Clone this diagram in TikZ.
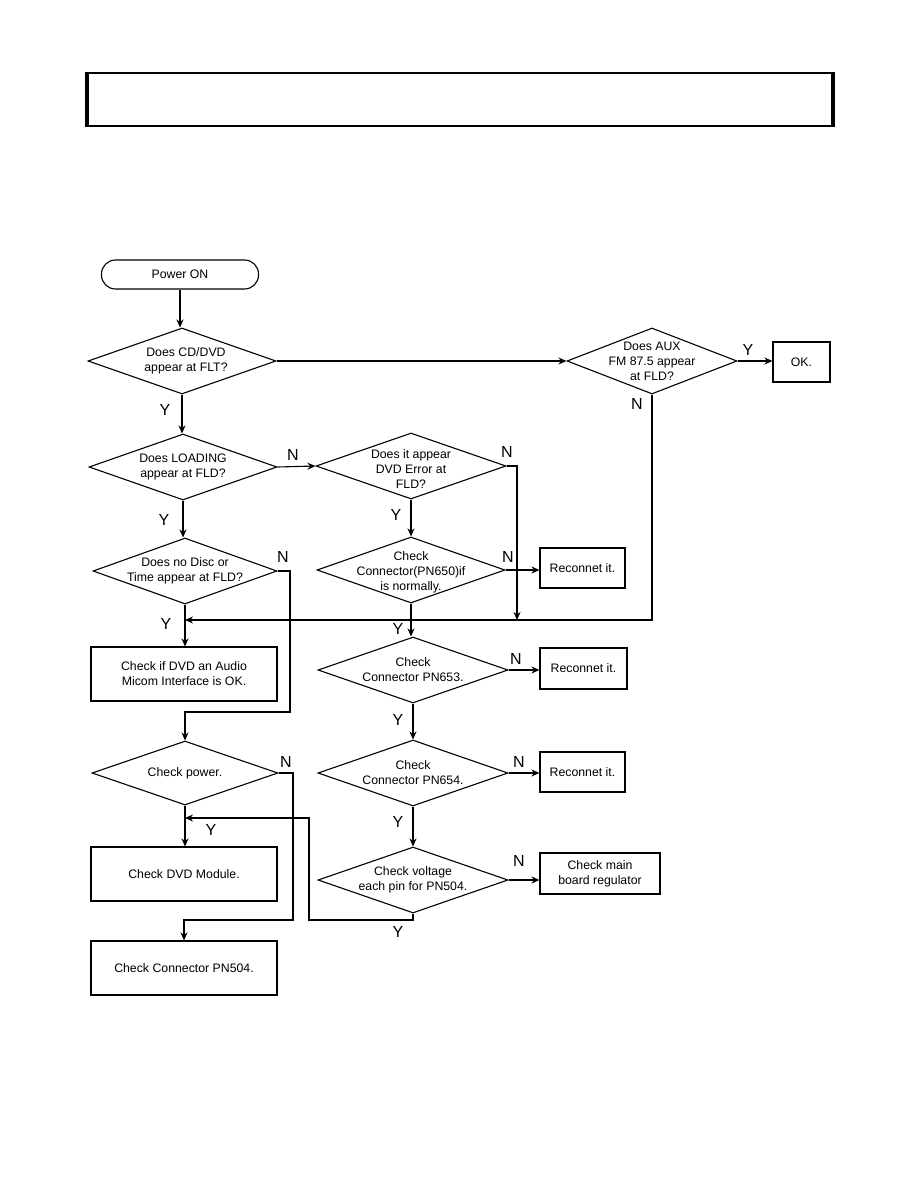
\documentclass[tikz,border=0pt]{standalone}
\usepackage{fontspec}
\setmainfont{Liberation Sans}
\usepackage{tikz}
\usetikzlibrary{arrows.meta,positioning,shapes.geometric}

\begin{document}
\begin{tikzpicture}[
  x=1pt, y=-1pt,
  every node/.style={font=\fontsize{12.3}{15}\selectfont},
  term/.style={rectangle, rounded corners=14pt, draw, line width=1.1pt, minimum width=157pt, minimum height=29pt},
  box/.style={rectangle, draw, line width=1.1pt, minimum width=186pt, minimum height=54pt, align=center},
  smallbox/.style={rectangle, draw, line width=1.1pt, minimum width=85pt, minimum height=40pt, align=center},
  decision/.style={diamond, draw, line width=1.1pt, minimum width=188pt, minimum height=66pt, inner sep=0pt},
  txt/.style={align=center, font=\fontsize{12.3}{15}\selectfont},
  yn/.style={font=\fontsize{16}{16}\selectfont, inner sep=0pt},
  arr/.style={-{Stealth[length=8pt,width=7pt]}, line width=1.1pt}
]
\useasboundingbox (0,0) rectangle (918,1188);

% header bar
\node[draw, line width=1.5pt, minimum width=744pt, minimum height=53pt, inner sep=0pt] (hdr) at (460,99.5) {};
\draw[line width=4pt] (hdr.north west) -- (hdr.south west);
\draw[line width=4pt] (hdr.north east) -- (hdr.south east);

% left column
\node[term] (pwr) at (180,274.5) {Power ON};
\node[decision, label={[txt, xshift=4pt]center:{Does CD/DVD\\appear at FLT?}}] (d1) at (182,361) {};
\node[decision, label={[txt]center:{Does LOADING\\appear at FLD?}}] (d2) at (183,467) {};
\node[decision, minimum width=184pt, label={[txt]center:{Does no Disc or\\Time appear at FLD?}}] (dnd) at (185,571) {};
\node[box] (bif) at (184,674) {Check if DVD an Audio\\Micom Interface is OK.};
\node[decision, minimum width=186pt, minimum height=64pt, label={[txt]center:{Check power.}}] (dpw) at (185,773) {};
\node[box] (bdvd) at (184,874) {Check DVD Module.};
\node[box] (b504) at (184,968) {Check Connector PN504.};

% middle column
\node[decision, minimum width=190pt, label={[txt, yshift=-3pt]center:{Does it appear\\DVD Error at\\FLD?}}] (d3) at (411,466) {};
\node[decision, label={[txt, yshift=-2pt]center:{Check\\Connector(PN650)if\\is normally.}}] (d4) at (411,570) {};
\node[decision, minimum width=190pt, label={[txt]center:{Check\\Connector PN653.}}] (d5) at (413,670) {};
\node[decision, minimum width=190pt, label={[txt]center:{Check\\Connector PN654.}}] (d6) at (413,773) {};
\node[decision, minimum width=190pt, label={[txt]center:{Check voltage\\each pin for PN504.}}] (d7) at (413,880) {};

% right column
\node[decision, minimum width=170pt, label={[txt]center:{Does AUX\\FM 87.5 appear\\at FLD?}}] (aux) at (652,361) {};
\node[smallbox, minimum width=57pt] (ok) at (801.5,362) {OK.};
\node[smallbox] (rc1) at (582.5,568) {Reconnet it.};
\node[smallbox, minimum width=87pt, minimum height=41pt] (rc2) at (583.5,668.5) {Reconnet it.};
\node[smallbox] (rc3) at (582.5,772) {Reconnet it.};
\node[smallbox, minimum width=120pt, minimum height=41pt] (reg) at (600,873.5) {Check main\\board regulator};

% junctions
\coordinate (jn1) at (185,620);
\coordinate (m3) at (517,620);
\coordinate (c2) at (290,712);
\coordinate (c4) at (293,920);
\coordinate (c7) at (309,920);
\coordinate (jn3) at (185,818);

% connectors
\draw[arr] (pwr.south) -- (pwr.south |- d1.north);
\draw[arr] (d1.east) -- (aux.west);
\draw[arr] (aux.east) -- (aux.east -| ok.west);
\draw[arr] (d1.south) -- (d1.south |- d2.north);
\draw[arr] (d2.east) -- (d3.west);
\draw[arr] (d2.south) -- (d2.south |- dnd.north);
\draw[arr] (d3.south) -- (d3.south |- d4.north);
\draw[arr] (d3.east) -| (m3);
\draw[arr] (d4.east) -- (d4.east -| rc1.west);
\draw[arr] (aux.south) |- (jn1);
\draw[arr] (d4.south) -- (d4.south |- d5.north);
\draw[arr] (d5.east) -- (d5.east -| rc2.west);
\draw[arr] (d5.south) -- (d6.north);
\draw[arr] (d6.east) -- (d6.east -| rc3.west);
\draw[arr] (d6.south) -- (d7.north);
\draw[arr] (d7.east) -- (d7.east -| reg.west);
\draw[arr] (d7.south) |- (c7) |- (jn3);
\draw[arr] (dnd.south) -- (dnd.south |- bif.north);
\draw[arr] (dnd.east) -| (c2) -| (dpw.north);
\draw[arr] (dpw.south) -- (dpw.south |- bdvd.north);
\draw[arr] (dpw.east) -| (c4) -| (b504.north);

% Y / N marks
\node[yn] (yaux) at (748,350) {Y};
\node[yn] (naux) at (637,404) {N};
\node[yn] (y1) at (165,410) {Y};
\node[yn] (n2) at (293,455) {N};
\node[yn] (n3) at (507,452) {N};
\node[yn] (y3) at (396,515) {Y};
\node[yn] (n4) at (508,557) {N};
\node[yn] (y2) at (164,520) {Y};
\node[yn] (nnd) at (283,557) {N};
\node[yn] (ynd) at (166,624) {Y};
\node[yn] (y4) at (398,629) {Y};
\node[yn] (n5) at (516,659) {N};
\node[yn] (y5) at (398,720) {Y};
\node[yn] (n6) at (519,762) {N};
\node[yn] (y6) at (398,822) {Y};
\node[yn] (n7) at (519,861) {N};
\node[yn] (y7) at (398,932) {Y};
\node[yn] (npw) at (286,762) {N};
\node[yn] (ypw) at (211,830) {Y};
\end{tikzpicture}
\end{document}
